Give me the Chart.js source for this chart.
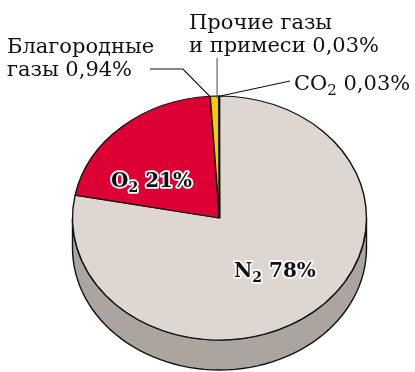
<!DOCTYPE html>
<html>
<head>
<meta charset="utf-8">
<script src="https://cdn.jsdelivr.net/npm/chart.js@4"></script>
<style>
  html, body { margin: 0; padding: 0; background: #fff; }
  #wrap { width: 415px; height: 372px; }
</style>
</head>
<body>
<div id="wrap"><canvas id="air"></canvas></div>
<script>
// состав воздуха, % по объёму (по часовой стрелке от верха)
const gases = ['N2', 'O2', 'Благородные газы', 'Прочие газы и примеси', 'CO2'];
const shares = [78, 21, 0.94, 0.03, 0.03];
const topColors = ['#ddd6d1', '#dd0035', '#f5cc00', '#bdb5b0', '#bdb5b0'];
const sideColors = ['#aca49f', '#a30028', '#b89800', '#8f8884', '#8f8884'];

const SQUASH = 0.83;   // наклон диска
const DEPTH = 30;      // толщина диска

const FONT = '"DejaVu Serif", "Liberation Serif", serif';

// боковая стенка + сжатие круга в эллипс
const disc3d = {
    id: 'disc3d',
    beforeDatasetsDraw(chart) {
        const ctx = chart.ctx;
        const arcs = chart.getDatasetMeta(0).data;
        const cx = arcs[0].x, cy = arcs[0].y, r = arcs[0].outerRadius;
        const ry = r * SQUASH;

        ctx.save();
        ctx.lineWidth = 1.4;
        ctx.strokeStyle = '#111';
        arcs.forEach((arc, i) => {
            // видна только передняя половина (0..PI на канвасе)
            const s = Math.max(arc.startAngle, 0);
            const e = Math.min(arc.endAngle, Math.PI);
            if (e <= s) return;
            ctx.beginPath();
            const steps = 60;
            for (let k = 0; k <= steps; k++) {
                const a = s + (e - s) * k / steps;
                const x = cx + r * Math.cos(a), y = cy + ry * Math.sin(a);
                k ? ctx.lineTo(x, y) : ctx.moveTo(x, y);
            }
            for (let k = steps; k >= 0; k--) {
                const a = s + (e - s) * k / steps;
                ctx.lineTo(cx + r * Math.cos(a), cy + ry * Math.sin(a) + DEPTH);
            }
            ctx.closePath();
            ctx.fillStyle = sideColors[i];
            ctx.fill();
            ctx.stroke();
        });
        ctx.restore();

        ctx.save();
        ctx.translate(0, cy);
        ctx.scale(1, SQUASH);
        ctx.translate(0, -cy);
    },
    afterDatasetsDraw(chart) {
        chart.ctx.restore();
    }
};

// текст с нижним индексом: parts = [[текст, индекс?], ...]
function drawText(ctx, parts, x, y, size, halo) {
    let px = x;
    const weight = halo ? 'bold ' : '';
    parts.forEach(([txt, sub]) => {
        const fs = sub ? Math.round(size * 0.7) : size;
        const py = sub ? y + size * 0.25 : y;
        ctx.font = weight + fs + 'px ' + FONT;
        if (halo) {
            ctx.lineJoin = 'round';
            ctx.lineWidth = 3.5;
            ctx.strokeStyle = '#fff';
            ctx.strokeText(txt, px, py);
        }
        ctx.fillStyle = '#111';
        ctx.fillText(txt, px, py);
        px += ctx.measureText(txt).width;
    });
}

// подписи и выноски
const captions = {
    id: 'captions',
    afterDraw(chart) {
        const ctx = chart.ctx;
        const arcs = chart.getDatasetMeta(0).data;
        const cx = arcs[0].x, cy = arcs[0].y, r = arcs[0].outerRadius;
        const rim = i => {
            const a = (arcs[i].startAngle + arcs[i].endAngle) / 2;
            return [cx + r * Math.cos(a), cy + r * SQUASH * Math.sin(a)];
        };

        ctx.save();
        ctx.lineWidth = 1.2;
        ctx.strokeStyle = '#111';
        // благородные газы
        let p = rim(2);
        ctx.beginPath();
        ctx.moveTo(150, 69);
        ctx.lineTo(183, 69);
        ctx.lineTo(p[0] - 5, p[1]);
        ctx.stroke();
        // прочие газы
        p = rim(3);
        ctx.strokeStyle = '#666';
        ctx.beginPath();
        ctx.moveTo(p[0] - 2, 58);
        ctx.lineTo(p[0] - 2, p[1] + 2);
        ctx.stroke();
        // CO2
        p = rim(4);
        ctx.strokeStyle = '#111';
        ctx.beginPath();
        ctx.moveTo(p[0] + 1, p[1]);
        ctx.lineTo(290, 81);
        ctx.stroke();

        ctx.textBaseline = 'alphabetic';
        drawText(ctx, [['Благородные']], 7, 53, 21);
        drawText(ctx, [['газы 0,94%']], 7, 76, 21);
        drawText(ctx, [['Прочие газы']], 189, 29, 21);
        drawText(ctx, [['и примеси 0,03%']], 189, 52, 21);
        drawText(ctx, [['CO'], ['2', true], [' 0,03%']], 294, 90, 21);
        drawText(ctx, [['O'], ['2', true], [' 21%']], 111, 187, 20, true);
        drawText(ctx, [['N'], ['2', true], [' 78%']], 234, 277, 20, true);
        ctx.restore();
    }
};

new Chart(document.getElementById('air'), {
    type: 'pie',
    data: {
        labels: gases,
        datasets: [{
            data: shares,
            backgroundColor: topColors,
            borderColor: '#111',
            borderWidth: 1.4,
            radius: 147
        }]
    },
    options: {
        responsive: true,
        maintainAspectRatio: false,
        animation: false,
        layout: { padding: { left: 72, right: 48, top: 71, bottom: 7 } },
        plugins: {
            legend: { display: false },
            tooltip: { enabled: false }
        }
    },
    plugins: [disc3d, captions]
});
</script>
</body>
</html>
